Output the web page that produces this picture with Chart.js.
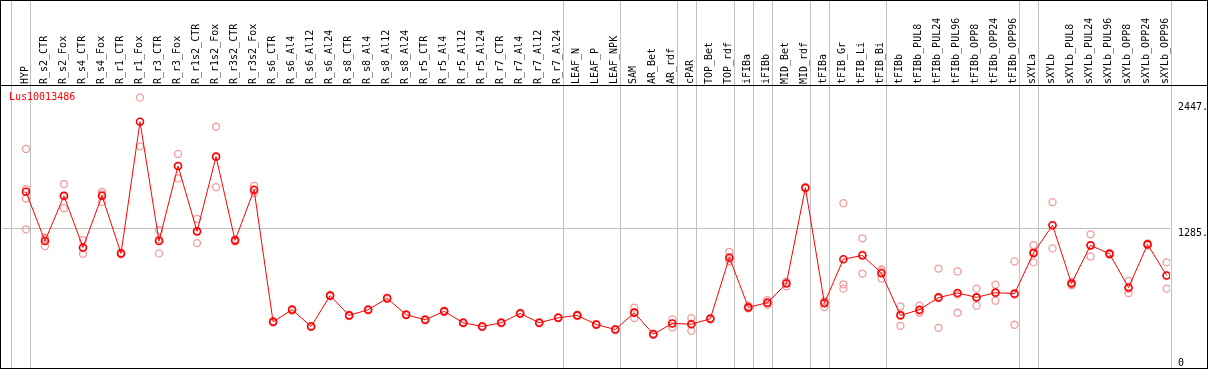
<!DOCTYPE html>
<html>
<head>
<meta charset="utf-8">
<script src="https://cdn.jsdelivr.net/npm/chart.js@4.4.1/dist/chart.umd.min.js"></script>
<style>
    html, body { margin: 0; padding: 0; background: #fff; }
    canvas { display: block; }
</style>
</head>
<body>
<canvas id="chart-gene" width="1209" height="370"></canvas>
<script>
const GENE = 'Lus10013486'

const categories = [
    'HYP', 'R_s2_CTR', 'R_s2_Fox', 'R_s4_CTR', 'R_s4_Fox', 'R_r1_CTR', 'R_r1_Fox',
    'R_r3_CTR', 'R_r3_Fox', 'R_r1s2_CTR', 'R_r1s2_Fox', 'R_r3s2_CTR', 'R_r3s2_Fox',
    'R_s6_CTR', 'R_s6_Al4', 'R_s6_Al12', 'R_s6_Al24', 'R_s8_CTR', 'R_s8_Al4',
    'R_s8_Al12', 'R_s8_Al24', 'R_r5_CTR', 'R_r5_Al4', 'R_r5_Al12', 'R_r5_Al24',
    'R_r7_CTR', 'R_r7_Al4', 'R_r7_Al12', 'R_r7_Al24', 'LEAF_N', 'LEAF_P', 'LEAF_NPK',
    'SAM', 'AR_Bet', 'AR_rdf', 'cPAR', 'TOP_Bet', 'TOP_rdf', 'iFIBa', 'iFIBb',
    'MID_Bet', 'MID_rdf', 'tFIBa', 'tFIB_Gr', 'tFIB_Li', 'tFIB_Bi', 'tFIBb',
    'tFIBb_PUL8', 'tFIBb_PUL24', 'tFIBb_PUL96', 'tFIBb_OPP8', 'tFIBb_OPP24', 'tFIBb_OPP96',
    'sXYLa', 'sXYLb', 'sXYLb_PUL8', 'sXYLb_PUL24', 'sXYLb_PUL96', 'sXYLb_OPP8',
    'sXYLb_OPP24', 'sXYLb_OPP96',
]

// mean expression per sample
const means = [
    1621, 1168, 1583, 1109, 1584, 1054, 2265, 1168, 1858, 1257, 1944, 1174, 1639,
    425, 536, 382, 666, 484, 536, 641, 490, 444, 521, 416, 382, 416, 502, 416, 462,
    484, 400, 354, 509, 311, 410, 403, 453, 1017, 558, 601, 777, 1658, 597, 1001,
    1035, 872, 484, 536, 647, 690, 650, 693, 684, 1057, 1313, 777, 1128, 1050, 740,
    1137, 851,
]

// single replicates per sample
const replicates = [
    [2015, 1646, 1559, 1276], [1198, 1185, 1121], [1692, 1584, 1470], [1177, 1101, 1050],
    [1621, 1600, 1528], [1062, 1054, 1046], [2487, 2039], [1267, 1184, 1054],
    [1969, 1858, 1744], [1371, 1257, 1149], [2219, 1944, 1664], [1184, 1174, 1164],
    [1676, 1633, 1609], [432, 425, 418], [544, 536, 528], [388, 382, 376],
    [672, 666, 660], [490, 484, 478], [542, 536, 530], [648, 641, 634],
    [496, 490, 484], [450, 444, 438], [528, 521, 514], [422, 416, 410],
    [388, 382, 376], [422, 416, 410], [508, 502, 496], [422, 416, 410],
    [468, 462, 456], [490, 484, 478], [406, 400, 394], [360, 354, 348],
    [555, 513, 459], [318, 311, 304], [447, 410, 373], [459, 408, 342],
    [460, 453, 446], [1069, 1000, 982], [573, 551, 548], [625, 596, 582],
    [796, 782, 752], [1665, 1658, 1651], [616, 615, 560], [1516, 770, 730],
    [1193, 1044, 869], [906, 887, 823], [567, 494, 388], [573, 527, 508],
    [915, 656, 370], [888, 675, 508], [730, 647, 573], [767, 693, 619],
    [980, 675, 398], [1131, 1069, 971], [1525, 1313, 1100], [791, 777, 761],
    [1230, 1128, 1026], [1058, 1050, 1042], [801, 729, 690], [1145, 1137, 1129],
    [971, 851, 730],
]

// last sample index of each tissue group (separator drawn after it)
const groupEnds = [-1, 0, 28, 31, 34, 35, 37, 38, 39, 41, 42, 45, 52, 53, 60]

const yTicks = [0, 1285, 2447]
const yTickLabels = ['0', '1285.', '2447.']

const GRID = '#c0c0c0'
const RED = '#ff0000'
const PINK = '#f29a9a'

Chart.defaults.font.family = "'DejaVu Sans Mono', monospace"
Chart.defaults.font.size = 10
Chart.defaults.color = '#000'

const meanPoints = means.map((v, i) => ({ x: i, y: v }))
const repPoints = []
replicates.forEach((reps, i) => {
    reps.forEach((v) => repPoints.push({ x: i, y: v }))
})

const noPadding = (axis) => {
    axis.paddingLeft = 0
    axis.paddingRight = 0
    axis.paddingTop = 0
    axis.paddingBottom = 0
}

const framePlugin = {
    id: 'frame',
    beforeDatasetsDraw(chart) {
        const { ctx, chartArea, scales } = chart
        ctx.save()
        ctx.strokeStyle = GRID
        ctx.lineWidth = 1
        groupEnds.forEach((b) => {
            const x = Math.round(scales.x.getPixelForValue(b + 0.23)) + 0.5
            ctx.beginPath()
            ctx.moveTo(x, 0)
            ctx.lineTo(x, chartArea.bottom)
            ctx.stroke()
        })
        ctx.restore()
    },
    afterDraw(chart) {
        const { ctx, chartArea, width } = chart
        ctx.save()
        ctx.strokeStyle = '#000'
        ctx.lineWidth = 1
        ctx.strokeRect(0.5, 0.5, width - 2, chartArea.bottom)
        ctx.beginPath()
        ctx.moveTo(0, chartArea.top - 0.5)
        ctx.lineTo(width - 1, chartArea.top - 0.5)
        ctx.stroke()
        ctx.fillStyle = RED
        ctx.textBaseline = 'middle'
        ctx.font = "10px 'DejaVu Sans Mono', monospace"
        ctx.fillText(GENE, chartArea.left + 7, chartArea.top + 11)
        ctx.restore()
    },
}

const chartGene = new Chart(document.getElementById('chart-gene'), {
    type: 'line',
    data: {
        datasets: [
            {
                label: 'mean',
                data: meanPoints,
                order: 1,
                borderColor: RED,
                borderWidth: 1,
                pointStyle: 'circle',
                pointRadius: 3.5,
                pointBorderWidth: 1.6,
                pointBorderColor: RED,
                pointBackgroundColor: 'rgba(0,0,0,0)',
                tension: 0,
            },
            {
                label: 'replicates',
                data: repPoints,
                order: 2,
                showLine: false,
                pointStyle: 'circle',
                pointRadius: 3.5,
                pointBorderWidth: 1.3,
                pointBorderColor: PINK,
                pointBackgroundColor: 'rgba(0,0,0,0)',
            },
        ],
    },
    options: {
        responsive: false,
        animation: false,
        devicePixelRatio: 1,
        layout: { autoPadding: false, padding: { left: 2, right: 0, top: 0, bottom: 2 } },
        plugins: {
            legend: { display: false },
            title: { display: false },
            tooltip: { enabled: false },
        },
        scales: {
            x: {
                type: 'linear',
                position: 'top',
                min: -1.26,
                max: 60.18,
                grid: { display: false, drawTicks: false },
                border: { display: false },
                afterBuildTicks: (axis) => {
                    axis.ticks = categories.map((c, i) => ({ value: i }))
                },
                afterFit: (axis) => {
                    axis.height = 86
                    noPadding(axis)
                },
                ticks: {
                    autoSkip: false,
                    minRotation: 90,
                    maxRotation: 90,
                    padding: 2,
                    labelOffset: 11,
                    callback: (v) => categories[v],
                },
            },
            y: {
                type: 'linear',
                position: 'right',
                min: 0,
                max: 2594,
                border: { display: false },
                grid: {
                    drawTicks: false,
                    color: (ctx) => (ctx.tick && ctx.tick.value === 1285 ? GRID : 'rgba(0,0,0,0)'),
                },
                afterBuildTicks: (axis) => {
                    axis.ticks = yTicks.map((v) => ({ value: v }))
                },
                afterFit: (axis) => {
                    axis.width = 39
                    noPadding(axis)
                },
                ticks: {
                    padding: 8,
                    font: { lineHeight: 1 },
                    callback: (v) => {
                        const label = yTickLabels[yTicks.indexOf(v)]
                        return v === 0 ? [label, ''] : ['', label]
                    },
                },
            },
        },
    },
    plugins: [framePlugin],
})
</script>
</body>
</html>
